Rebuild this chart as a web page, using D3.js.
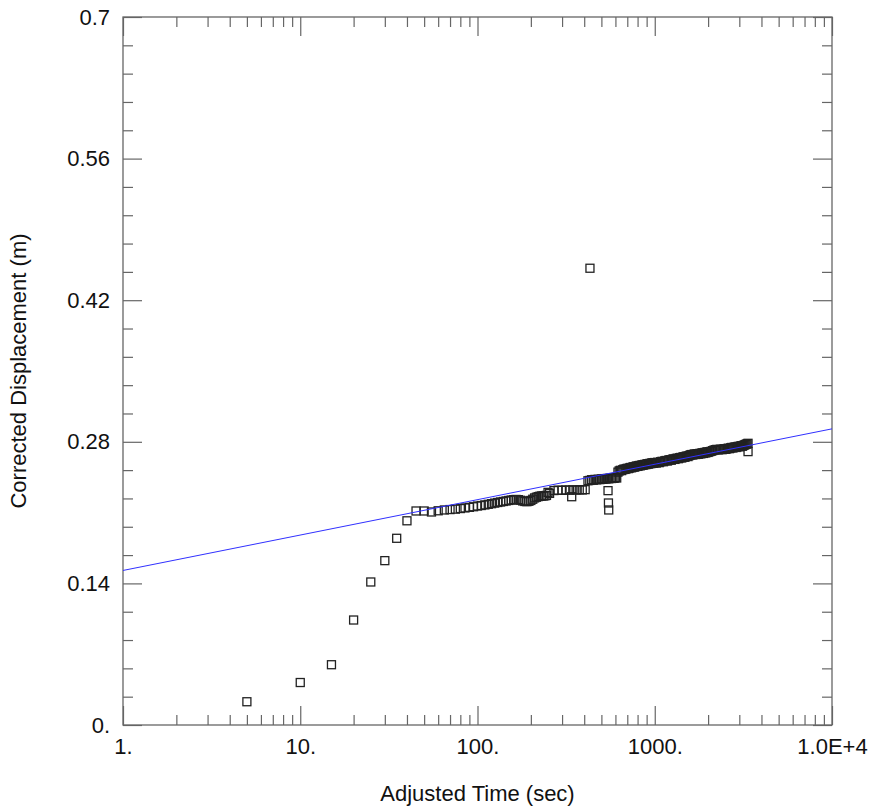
<!DOCTYPE html>
<html>
<head>
<meta charset="utf-8">
<script src="https://cdn.jsdelivr.net/npm/d3@7"></script>
<style>
  body { margin: 0; background: #fff; }
  text { font-family: "Liberation Sans", Arial, sans-serif; }
</style>
</head>
<body>
<div id="chart"></div>
<script>
// data (time in sec, displacement in m)
var earlyTime = [5, 10, 15, 20, 25, 30, 35, 40, 45, 50, 55];
var earlyDisp = [0.023, 0.042, 0.0596, 0.1038, 0.1414, 0.1625, 0.1846, 0.2019, 0.2116, 0.2116, 0.2106];

var midTime = [60, 65, 70, 75, 80, 85, 90, 95, 100, 105, 110, 115, 120, 125, 130, 135,
               140, 145, 150, 155, 160, 165, 170, 175, 180, 185, 190, 195, 200, 205, 210,
               215, 220, 225, 230, 235, 240, 245, 250];
var midDisp = [0.2118, 0.2126, 0.2130, 0.2134, 0.2140, 0.2146, 0.2152, 0.2158, 0.2165, 0.2170,
               0.2176, 0.2182, 0.2188, 0.2194, 0.2200, 0.2205,
               0.2210, 0.2215, 0.2220, 0.2224, 0.2228, 0.2230, 0.2228, 0.2222, 0.2215, 0.2210,
               0.2208, 0.2212, 0.2220, 0.2232, 0.2245, 0.2252, 0.2258, 0.2262, 0.2264, 0.2265,
               0.2266, 0.2270, 0.2300];

var lateTime = [255, 270, 285, 300, 315, 330, 345, 360, 375, 390, 405, 420,
                430, 440, 450, 460, 470, 480, 490, 500, 510, 520, 530, 540, 550, 560,
                570, 580, 590, 600, 610];
var lateDisp = [0.2290, 0.2318, 0.2322, 0.2320, 0.2324, 0.2322, 0.2325, 0.2323, 0.2326, 0.2324,
                0.2327, 0.2415,
                0.2418, 0.2425, 0.2420, 0.2428, 0.2424, 0.2430, 0.2426, 0.2433, 0.2429, 0.2436,
                0.2432, 0.2438, 0.2434, 0.2440, 0.2437, 0.2443, 0.2439, 0.2446, 0.2442];

var denseTime = [620, 630, 640, 650, 660, 670, 680, 690, 700, 710, 720, 730, 740, 750, 760,
                 770, 780, 790, 800, 810, 820, 830, 840, 850, 860, 870, 880, 890, 900, 910,
                 920, 930, 940, 950, 960, 970, 980, 990, 1000,
                 1020, 1040, 1060, 1080, 1100, 1120, 1140, 1160, 1180, 1200, 1220, 1240, 1260,
                 1280, 1300, 1320, 1340, 1360, 1380, 1400, 1420, 1440, 1460, 1480, 1500, 1520,
                 1540, 1560, 1580, 1600, 1620, 1640, 1660, 1680, 1700, 1720, 1740, 1760, 1780,
                 1800, 1820, 1840, 1860, 1880, 1900, 1920, 1940, 1960, 1980, 2000,
                 2040, 2080, 2120, 2160, 2200, 2240, 2280, 2320, 2360, 2400, 2440, 2480, 2520,
                 2560, 2600, 2640, 2680, 2720, 2760, 2800, 2840, 2880, 2920, 2960, 3000, 3040,
                 3080, 3120, 3160, 3200, 3240, 3280, 3320, 3360];
var denseDisp = [0.2500, 0.2512, 0.2518, 0.2515, 0.2524, 0.2530, 0.2527, 0.2533, 0.2538, 0.2535,
                 0.2541, 0.2546, 0.2543, 0.2549, 0.2552, 0.2550, 0.2556, 0.2560, 0.2557, 0.2562,
                 0.2566, 0.2563, 0.2568, 0.2571, 0.2569, 0.2574, 0.2577, 0.2574, 0.2579, 0.2582,
                 0.2580, 0.2584, 0.2587, 0.2584, 0.2589, 0.2591, 0.2588, 0.2593, 0.2595,
                 0.2590, 0.2598, 0.2594, 0.2603, 0.2607, 0.2603, 0.2612, 0.2615, 0.2610, 0.2620,
                 0.2623, 0.2618, 0.2628, 0.2631, 0.2626, 0.2635, 0.2638, 0.2633, 0.2642, 0.2645,
                 0.2640, 0.2649, 0.2652, 0.2647, 0.2656, 0.2659, 0.2654, 0.2663, 0.2668, 0.2672,
                 0.2674, 0.2670, 0.2676, 0.2679, 0.2674, 0.2678, 0.2682, 0.2677, 0.2683, 0.2686,
                 0.2681, 0.2687, 0.2690, 0.2685, 0.2692, 0.2695, 0.2690, 0.2697, 0.2700, 0.2695,
                 0.2702, 0.2706, 0.2712, 0.2718, 0.2722, 0.2725, 0.2720, 0.2724, 0.2727, 0.2722,
                 0.2728, 0.2731, 0.2726, 0.2733, 0.2737, 0.2732, 0.2740, 0.2744, 0.2739, 0.2745,
                 0.2749, 0.2744, 0.2751, 0.2755, 0.2750, 0.2757, 0.2761, 0.2756, 0.2763, 0.2768,
                 0.2772, 0.2776, 0.2780, 0.2785];

var outlierTime = [340, 431, 545, 548, 550, 3360];
var outlierDisp = [0.2257, 0.4516, 0.2317, 0.2195, 0.2126, 0.2703];

// fitted straight line (semi-log)
var fitTime = [1, 10000];
var fitDisp = [0.1528, 0.2928];

// ticks
var majorX = [1, 10, 100, 1000, 10000];
var xLabels = ['1.', '10.', '100.', '1000.', '1.0E+4'];
var minorX = [2, 3, 4, 5, 6, 7, 8, 9, 20, 30, 40, 50, 60, 70, 80, 90,
              200, 300, 400, 500, 600, 700, 800, 900, 2000, 3000, 4000, 5000, 6000, 7000, 8000, 9000];
var majorY = [0, 0.14, 0.28, 0.42, 0.56, 0.7];
var yLabels = ['0.', '0.14', '0.28', '0.42', '0.56', '0.7'];
var minorY = [0.028, 0.056, 0.084, 0.112, 0.168, 0.196, 0.224, 0.252, 0.308, 0.336, 0.364, 0.392,
              0.448, 0.476, 0.504, 0.532, 0.588, 0.616, 0.644, 0.672];

var W = 873, H = 809;
var plotL = 123, plotR = 832, plotT = 17, plotB = 725;
var axisColor = '#666';

var svg = d3.select('#chart')
            .append('svg')
            .attr('width', W)
            .attr('height', H);

svg.append('rect').attr('width', W).attr('height', H).attr('fill', '#fff');

var x = d3.scaleLog().domain([1, 10000]).range([plotL, plotR]);
var y = d3.scaleLinear().domain([0, 0.7]).range([plotB, plotT]);

function styleAxis(g) {
  g.select('.domain').remove();
  g.selectAll('line').attr('stroke', axisColor).attr('stroke-width', 1.2);
  g.selectAll('text').attr('font-size', 22).attr('fill', '#111')
   .attr('font-family', '"Liberation Sans", Arial, sans-serif');
}

// bottom
svg.append('g').attr('transform', 'translate(0,' + plotB + ')')
   .call(d3.axisBottom(x).tickValues(majorX).tickSize(-19).tickPadding(13)
           .tickFormat(function(d, i) { return xLabels[i]; }))
   .call(styleAxis);
svg.append('g').attr('transform', 'translate(0,' + plotB + ')')
   .call(d3.axisBottom(x).tickValues(minorX).tickSize(-10).tickFormat(''))
   .call(styleAxis);
// top
svg.append('g').attr('transform', 'translate(0,' + plotT + ')')
   .call(d3.axisTop(x).tickValues(majorX).tickSize(-19).tickFormat(''))
   .call(styleAxis);
svg.append('g').attr('transform', 'translate(0,' + plotT + ')')
   .call(d3.axisTop(x).tickValues(minorX).tickSize(-10).tickFormat(''))
   .call(styleAxis);
// left
svg.append('g').attr('transform', 'translate(' + plotL + ',0)')
   .call(d3.axisLeft(y).tickValues(majorY).tickSize(-19).tickPadding(13)
           .tickFormat(function(d, i) { return yLabels[i]; }))
   .call(styleAxis);
svg.append('g').attr('transform', 'translate(' + plotL + ',0)')
   .call(d3.axisLeft(y).tickValues(minorY).tickSize(-10).tickFormat(''))
   .call(styleAxis);
// right
svg.append('g').attr('transform', 'translate(' + plotR + ',0)')
   .call(d3.axisRight(y).tickValues(majorY).tickSize(-19).tickFormat(''))
   .call(styleAxis);
svg.append('g').attr('transform', 'translate(' + plotR + ',0)')
   .call(d3.axisRight(y).tickValues(minorY).tickSize(-10).tickFormat(''))
   .call(styleAxis);

// frame
svg.append('rect')
   .attr('x', plotL).attr('y', plotT)
   .attr('width', plotR - plotL).attr('height', plotB - plotT)
   .attr('fill', 'none').attr('stroke', axisColor).attr('stroke-width', 1.3);

// points
var points = [];
function addSeries(ts, ds) {
  for (var i = 0; i < ts.length; i++) points.push({t: ts[i], d: ds[i]});
}
addSeries(earlyTime, earlyDisp);
addSeries(midTime, midDisp);
addSeries(lateTime, lateDisp);
addSeries(denseTime, denseDisp);
addSeries(outlierTime, outlierDisp);

var sq = 8;
svg.append('g').selectAll('rect')
   .data(points)
   .enter()
   .append('rect')
   .attr('x', function(d) { return x(d.t) - sq / 2; })
   .attr('y', function(d) { return y(d.d) - sq / 2; })
   .attr('width', sq)
   .attr('height', sq)
   .attr('fill', 'none')
   .attr('stroke', '#222')
   .attr('stroke-width', 1.3);

// fit line
var fit = fitTime.map(function(t, i) { return {t: t, d: fitDisp[i]}; });
var line = d3.line()
             .x(function(d) { return x(d.t); })
             .y(function(d) { return y(d.d); });
svg.append('path')
   .datum(fit)
   .attr('fill', 'none')
   .attr('stroke', '#3030ff')
   .attr('stroke-width', 1)
   .attr('d', line);

// titles
svg.append('text')
   .attr('x', (plotL + plotR) / 2)
   .attr('y', 801)
   .attr('text-anchor', 'middle')
   .attr('font-size', 22)
   .attr('fill', '#111')
   .text('Adjusted Time (sec)');

svg.append('text')
   .attr('transform', 'translate(26,' + ((plotT + plotB) / 2) + ') rotate(-90)')
   .attr('text-anchor', 'middle')
   .attr('font-size', 22)
   .attr('fill', '#111')
   .text('Corrected Displacement (m)');
</script>
</body>
</html>
